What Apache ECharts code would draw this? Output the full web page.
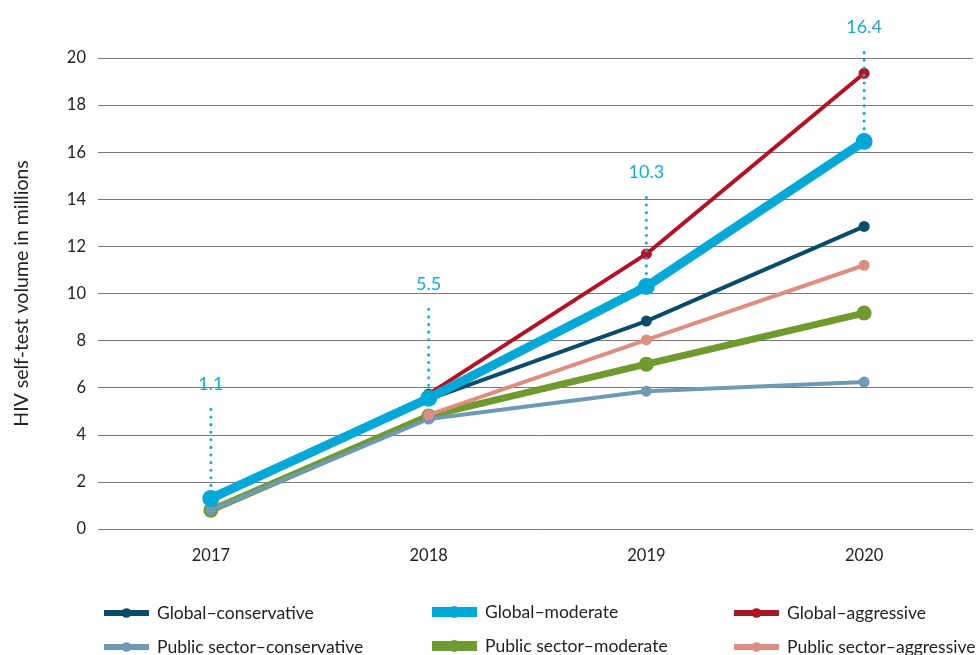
<!DOCTYPE html>
<html>
<head>
<meta charset="utf-8">
<script src="https://cdn.jsdelivr.net/npm/echarts@6/dist/echarts.min.js"></script>
<style>html,body{margin:0;padding:0;background:#fff}#c{width:978px;height:655px}</style>
</head>
<body>
<div id="c"></div>
<script>
const years = ['2017', '2018', '2019', '2020'];
const globalConservative = [null, 5.5, 8.83, 12.85];
const globalModerate = [1.3, 5.55, 10.3, 16.45];
const globalAggressive = [null, 5.73, 11.68, 19.35];
const publicConservative = [0.8, 4.67, 5.85, 6.24];
const publicModerate = [0.8, 4.8, 7.0, 9.17];
const publicAggressive = [null, 4.85, 8.03, 11.2];
const annotations = ['1.1', '5.5', '10.3', '16.4'];
const yTicks = [0, 2, 4, 6, 8, 10, 12, 14, 16, 18, 20];

const font = 'Lato, "Noto Sans", sans-serif';
const chart = echarts.init(document.getElementById('c'));

function mk(name, data, color, width, size, z) {
  return {
    name, type: 'line', data, z,
    symbol: 'circle', symbolSize: size,
    lineStyle: { color, width },
    itemStyle: { color },
    emphasis: { disabled: true },
    animation: false
  };
}

const series = [
  mk('Public sector–moderate', publicModerate, '#6f9a2e', 7, 15, 2),
  mk('Public sector–conservative', publicConservative, '#6f9ab5', 4, 11, 3),
  mk('Public sector–aggressive', publicAggressive, '#de8e80', 4, 11, 3),
  mk('Global–conservative', globalConservative, '#0a4b6a', 4, 11, 4),
  mk('Global–aggressive', globalAggressive, '#b31225', 4, 11, 4),
  mk('Global–moderate', globalModerate, '#00a8d8', 9, 17, 5)
];

function legendItem(left, top, name, thick) {
  return {
    left, top, orient: 'horizontal',
    itemWidth: 45, itemHeight: thick ? 15 : 12,
    textStyle: { fontSize: 17.5, fontFamily: font, color: '#222', padding: [0, 0, 0, 3] },
    lineStyle: { width: thick ? 10 : 6 },
    data: [name], selectedMode: false
  };
}

chart.setOption({
  animation: false,
  backgroundColor: '#fff',
  grid: { left: 102, right: 5, top: 58, bottom: 126 },
  legend: [
    legendItem(96, 599, 'Global–conservative', false),
    legendItem(96, 633, 'Public sector–conservative', false),
    legendItem(422, 598, 'Global–moderate', true),
    legendItem(422, 632, 'Public sector–moderate', true),
    legendItem(726, 599, 'Global–aggressive', false),
    legendItem(726, 633, 'Public sector–aggressive', false)
  ],
  xAxis: {
    type: 'category', data: years, boundaryGap: true,
    axisLine: { show: false }, axisTick: { show: false },
    axisLabel: { fontSize: 16.5, fontFamily: font, color: '#222', margin: 18 }
  },
  yAxis: {
    type: 'value', min: yTicks[0], max: yTicks[yTicks.length - 1], interval: 2,
    name: 'HIV self-test volume in millions', nameLocation: 'middle', nameGap: 70,
    nameTextStyle: { fontSize: 19.5, fontFamily: font, color: '#222' },
    axisLine: { show: false },
    axisTick: { show: true, length: 4, lineStyle: { color: '#777' } },
    axisLabel: { fontSize: 16.5, fontFamily: font, color: '#222', margin: 16 },
    splitLine: { lineStyle: { color: '#777', width: 1 } }
  },
  series
});

// dotted annotation lines above the Global–moderate points, placed via the chart's scales
const graphics = [];
years.forEach((y, i) => {
  const p0 = chart.convertToPixel({ seriesIndex: 5 }, [i, globalModerate[i] + 0.55]);
  const p1 = chart.convertToPixel({ seriesIndex: 5 }, [i, globalModerate[i] + 4.0]);
  graphics.push({
    type: 'line', z: 10, silent: true,
    shape: { x1: p0[0], y1: p0[1], x2: p1[0], y2: p1[1] },
    style: { stroke: '#1aa7d6', lineWidth: 3, lineDash: [0.1, 7.5], lineCap: 'round' }
  });
  graphics.push({
    type: 'text', z: 10, silent: true,
    x: p1[0], y: p1[1] - 11,
    style: { text: annotations[i], fill: '#1aa7d6', font: '18px ' + font, textAlign: 'center', textVerticalAlign: 'bottom' }
  });
});
chart.setOption({ graphic: graphics });
</script>
</body>
</html>
